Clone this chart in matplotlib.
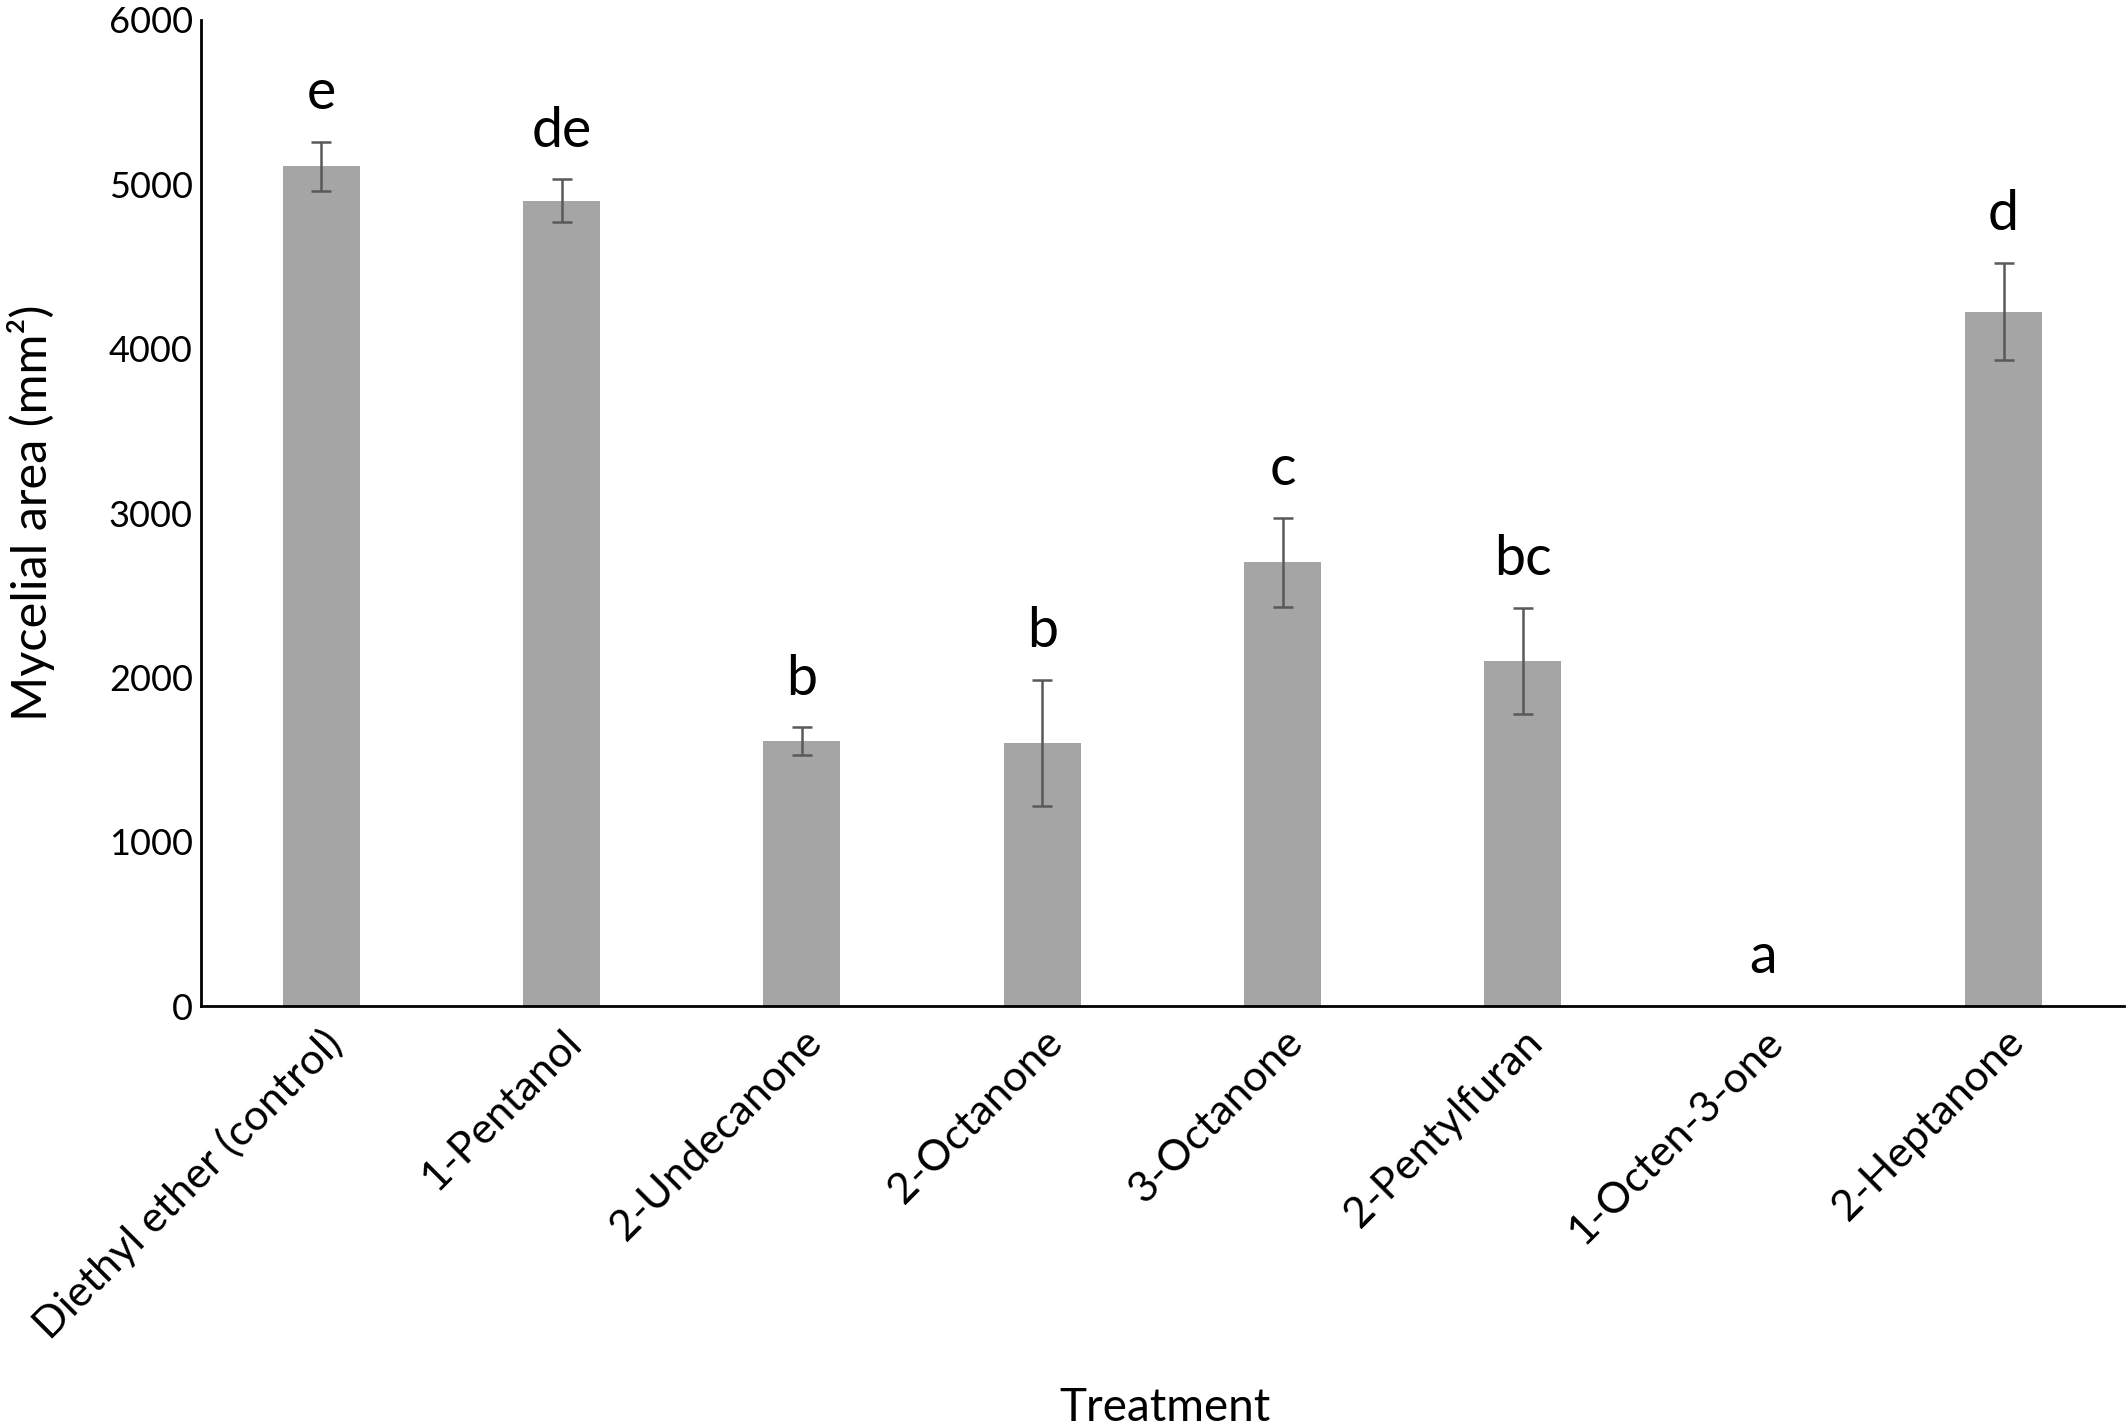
import matplotlib
matplotlib.use("Agg")
import matplotlib.pyplot as plt

treatments = ["Diethyl ether (control)", "1-Pentanol", "2-Undecanone", "2-Octanone",
              "3-Octanone", "2-Pentylfuran", "1-Octen-3-one", "2-Heptanone"]
area = [5110, 4900, 1610, 1600, 2700, 2100, 0, 4225]
err = [150, 130, 85, 385, 270, 325, 0, 295]
letters = ["e", "de", "b", "b", "c", "bc", "a", "d"]

plt.rcParams['font.family'] = ['Lato', 'DejaVu Sans']

fig = plt.figure(figsize=(21.28, 14.28), dpi=100)
ax = fig.add_axes([0.0945, 0.2955, 0.9035, 0.6905])

x = range(len(treatments))
ax.bar(x, area, width=0.32, color='#a5a5a5', zorder=2)
ax.errorbar([i for i in x if err[i] > 0], [area[i] for i in x if err[i] > 0],
            yerr=[err[i] for i in x if err[i] > 0], fmt='none',
            ecolor='#595959', elinewidth=1.8, capsize=7, capthick=1.8, zorder=3)

# significance letters sit a little above each error bar
for i, lab in enumerate(letters):
    ax.text(i, area[i] + err[i] + 200, lab, ha='center', va='baseline', fontsize=40)

ax.set_xlim(-0.5, len(treatments) - 0.5)
ax.set_ylim(0, 6000)
ax.set_yticks(range(0, 6001, 1000))
ax.set_xticks(list(x))
ax.set_xticklabels(treatments, rotation=45, ha='right', rotation_mode='anchor', fontsize=31)
ax.tick_params(axis='y', labelsize=26, length=0, pad=6)
ax.tick_params(axis='x', length=0, pad=12)

for s in ['top', 'right']:
    ax.spines[s].set_visible(False)
ax.spines['left'].set_linewidth(2)
ax.spines['bottom'].set_linewidth(2)

fig.text(0.0145, 0.641, "Mycelial area (mm²)", rotation=90, ha='center', va='center', fontsize=35)
fig.text(0.5475, 0.014, "Treatment", ha='center', va='center', fontsize=33)

fig.savefig("out.png", dpi=100)
